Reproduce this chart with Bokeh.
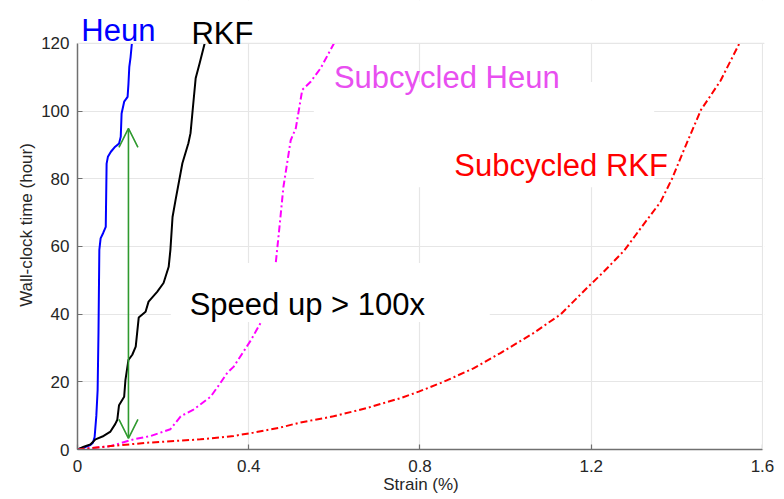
from bokeh.plotting import figure
from bokeh.models import (Range1d, FixedTicker, Label, Arrow, OpenHead,
                          BoxAnnotation, Span)
from bokeh.embed import file_html
from bokeh.resources import INLINE

# Wall-clock time (hour) versus strain (%) for the four integrators
heun_strain = [0, 0.015, 0.030, 0.036, 0.040, 0.044, 0.047, 0.049, 0.051, 0.054,
               0.060, 0.066, 0.068, 0.071, 0.078, 0.088, 0.097, 0.101, 0.103,
               0.109, 0.117, 0.119, 0.121, 0.124, 0.127]
heun_time = [0, 0.6, 1.3, 2.0, 3.7, 10, 17.5, 34.4, 59, 62.4,
             64, 65.8, 84.5, 86.5, 88, 89.5, 90.4, 92.4, 99.3,
             102.8, 104.2, 108, 113.1, 116, 120]

rkf_strain = [0, 0.015, 0.030, 0.042, 0.061, 0.077, 0.088, 0.093, 0.097, 0.109,
              0.112, 0.119, 0.128, 0.136, 0.143, 0.159, 0.166, 0.186, 0.201,
              0.213, 0.217, 0.222, 0.229, 0.245, 0.259, 0.264, 0.271, 0.276,
              0.285, 0.297]
rkf_time = [0, 0.8, 1.5, 3, 4, 5.3, 7.5, 8.8, 13.1, 15.6,
            20.6, 26.5, 28, 30.4, 39, 40.7, 43.7, 46.6, 49.2,
            54, 59, 68.7, 73.7, 84.6, 90.5, 93.5, 103, 109.7,
            114, 120]

sub_heun_strain = [0, 0.077, 0.131, 0.171, 0.217, 0.241, 0.271, 0.311, 0.334,
                   0.350, 0.365, 0.405, 0.428, 0.445, 0.463, 0.471, 0.481,
                   0.498, 0.510, 0.525, 0.544, 0.568, 0.599]
sub_heun_time = [0, 1, 3, 4, 6, 9.8, 11.8, 15.6, 19.7,
                 22.7, 24.5, 32.3, 37.5, 46, 55, 64.8, 77.6,
                 91.4, 95, 106.3, 108.6, 112.7, 120]

sub_rkf_strain = [0, 0.077, 0.163, 0.287, 0.365, 0.411, 0.474, 0.521, 0.598,
                  0.677, 0.755, 0.797, 0.855, 0.925, 0.988, 1.065, 1.129,
                  1.192, 1.229, 1.277, 1.312, 1.362, 1.389, 1.413, 1.456,
                  1.502, 1.546]
sub_rkf_time = [0, 1, 2, 3, 4, 5, 6.5, 8, 9.8,
                12.3, 15.2, 17.1, 20, 24, 28.5, 34.4, 40,
                48, 52.5, 58.8, 64.8, 73.2, 80.1, 87.5, 100.3,
                109, 120]

# Speed-up arrow span (hours) at a fixed strain
arrow_strain = 0.119
arrow_low, arrow_high = 3.3, 94.9

x_ticks = [0, 0.4, 0.8, 1.2, 1.6]
x_tick_labels = ["0", "0.4", "0.8", "1.2", "1.6"]
y_ticks = [0, 20, 40, 60, 80, 100, 120]
y_tick_labels = ["0", "20", "40", "60", "80", "100", "120"]

X_MAX, Y_MAX = 1.6, 120

FONT = "Liberation Sans"
TXT = "#262626"
GRID = "#e6e6e6"
AXIS = "#707070"

# The frame reaches the top of the canvas so the series names above the
# axes box are not clipped; the box itself is closed at Y_MAX.
p = figure(width=784, height=499, output_backend="svg", toolbar_location=None,
           x_range=Range1d(0, 1.6047), y_range=Range1d(0, 132.7),
           min_border_left=77, min_border_right=20,
           min_border_top=0, min_border_bottom=50)
p.background_fill_color = "white"
p.border_fill_color = "white"
p.outline_line_color = None

# grid
p.xgrid.ticker = FixedTicker(ticks=x_ticks)
p.ygrid.ticker = FixedTicker(ticks=y_ticks)
for g in (p.xgrid, p.ygrid):
    g.grid_line_color = GRID
    g.grid_line_width = 1.2

# axes
p.xaxis.ticker = FixedTicker(ticks=x_ticks)
p.yaxis.ticker = FixedTicker(ticks=y_ticks)
p.xaxis.bounds = (0, X_MAX)
p.yaxis.bounds = (0, Y_MAX)
p.xaxis.major_label_overrides = dict(zip(x_ticks, x_tick_labels))
p.yaxis.major_label_overrides = dict(zip(y_ticks, y_tick_labels))
p.xaxis.axis_label = "Strain (%)"
p.yaxis.axis_label = "Wall-clock time (hour)"
for ax in (p.xaxis, p.yaxis):
    ax.axis_line_color = AXIS
    ax.axis_line_width = 1.5
    ax.major_tick_line_color = AXIS
    ax.major_tick_line_width = 1.2
    ax.major_tick_in = 5
    ax.major_tick_out = 0
    ax.minor_tick_line_color = None
    ax.major_label_text_font = FONT
    ax.major_label_text_font_size = "17px"
    ax.major_label_text_color = TXT
    ax.axis_label_text_font = FONT
    ax.axis_label_text_font_size = "17px"
    ax.axis_label_text_font_style = "normal"
    ax.axis_label_text_color = TXT
p.xaxis.major_label_standoff = 10
p.xaxis.axis_label_standoff = 0
p.yaxis.major_label_standoff = 8
p.yaxis.axis_label_standoff = 2

# curves
p.line(x=heun_strain, y=heun_time, line_color="#0000ff", line_width=2)
p.line(x=rkf_strain, y=rkf_time, line_color="#000000", line_width=2)
p.line(x=sub_heun_strain, y=sub_heun_time, line_color="#ff00ff", line_width=2,
       line_dash="7 3 2 3")
p.line(x=sub_rkf_strain, y=sub_rkf_time, line_color="#ff0000", line_width=2,
       line_dash="7 3 2 3")

# blank strip above the axes box, then its top edge
p.add_layout(BoxAnnotation(bottom=Y_MAX, fill_color="white", fill_alpha=1.0,
                           line_color=None, line_alpha=0))
p.add_layout(BoxAnnotation(left=X_MAX, fill_color="white", fill_alpha=1.0,
                           line_color=None, line_alpha=0))
p.add_layout(Span(location=Y_MAX, dimension="width", line_color=GRID,
                  line_width=1.2))
p.add_layout(BoxAnnotation(left=X_MAX - 0.0012, right=X_MAX + 0.0012,
                           bottom=0, top=Y_MAX, fill_color=GRID,
                           fill_alpha=1.0, line_color=None, line_alpha=0))

# white panels behind the annotation texts
p.add_layout(BoxAnnotation(left=0.218, right=0.963, bottom=37.7, top=55.1,
                           fill_color="white", fill_alpha=1.0,
                           line_color=None, line_alpha=0))
p.add_layout(BoxAnnotation(left=0.552, right=1.347, bottom=77.5, top=108.6,
                           fill_color="white", fill_alpha=1.0,
                           line_color=None, line_alpha=0))

# double-headed speed-up arrow
green = "#2f9a2f"
p.add_layout(Arrow(x_start=arrow_strain, y_start=arrow_low,
                   x_end=arrow_strain, y_end=arrow_high,
                   line_color=green, line_width=1.6,
                   start=OpenHead(size=19, line_color=green, line_width=1.6),
                   end=OpenHead(size=19, line_color=green, line_width=1.6)))

# series names and annotation
def add_text(txt, x, y, color):
    p.add_layout(Label(x=x, y=y, text=txt, text_font=FONT,
                       text_font_size="31px", text_color=color,
                       text_align="left", text_baseline="alphabetic"))

add_text("Heun", 0.009, 123.9, "#0000ff")
add_text("RKF", 0.266, 122.8, "#000000")
add_text("Subcycled Heun", 0.599, 110.0, "#e84ff0")
add_text("Subcycled RKF", 0.880, 84.0, "#ff0000")
add_text("Speed up > 100x", 0.262, 42.9, "#000000")

open("out.html", "w").write(file_html(p, INLINE))
